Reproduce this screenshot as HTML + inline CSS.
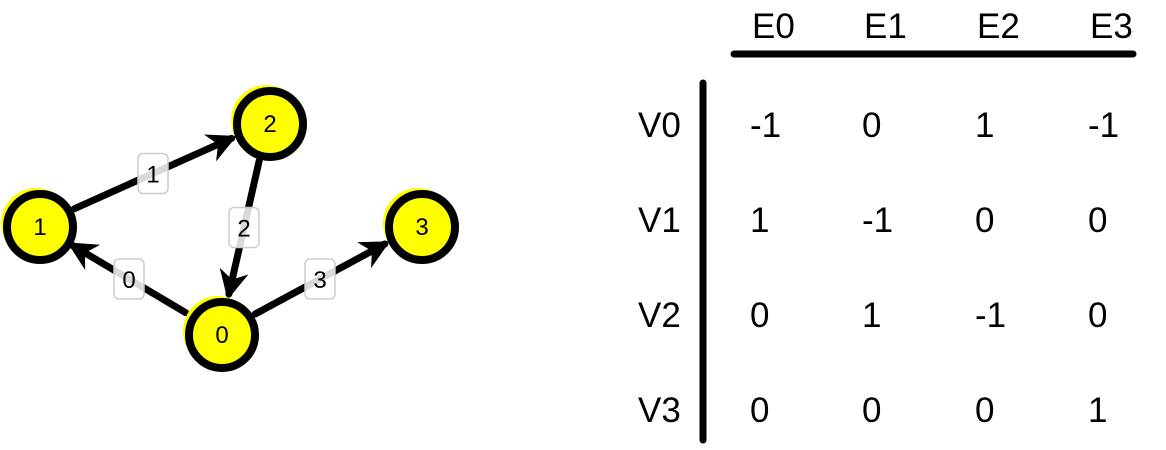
<!DOCTYPE html>
<html><head><meta charset="utf-8"><style>
html,body{margin:0;padding:0;background:#fff;width:1166px;height:450px;overflow:hidden}
text{font-family:"Liberation Sans",sans-serif;fill:#000}
</style></head><body>
<svg width="1166" height="450" viewBox="0 0 1166 450">
<defs>
<marker id="ah" viewBox="0 0 10 10" refX="8" refY="5" markerWidth="4.2" markerHeight="4.2" orient="auto" markerUnits="strokeWidth">
<path d="M0,0 L10,5 L0,10 L3,5 Z" fill="#000"/></marker>
</defs>
<g id="graph"></g>
<g id="table"></g>
</svg>
<script>
const nodeIds=["0","1","2","3"];
const nodeX=[220,38,268,420];
const nodeY=[333,225,122,225];
const edgeFrom=[0,1,2,0];
const edgeTo=[1,2,0,3];
const colLabels=["E0","E1","E2","E3"];
const rowLabels=["V0","V1","V2","V3"];
const matrix=[[-1,0,1,-1],[1,-1,0,0],[0,1,-1,0],[0,0,0,1]];
const NS="http://www.w3.org/2000/svg";
function mk(t,a,p){const e=document.createElementNS(NS,t);for(const k in a)e.setAttribute(k,a[k]);p.appendChild(e);return e;}
const g=document.getElementById('graph');
const R=36;
edgeFrom.forEach((f,i)=>{
  const t=edgeTo[i];
  const dx=nodeX[t]-nodeX[f],dy=nodeY[t]-nodeY[f],L=Math.hypot(dx,dy),ux=dx/L,uy=dy/L;
  const x1=nodeX[f]+ux*(R+4),y1=nodeY[f]+uy*(R+4),x2=nodeX[t]-ux*(R+4),y2=nodeY[t]-uy*(R+4);
  const ln=mk('line',{x1,y1,x2,y2,stroke:'#000','stroke-width':7,'stroke-linecap':'round','marker-end':'url(#ah)'},g);
  
  
  const mx=(x1+x2)/2,my=(y1+y2)/2;
  const lb=mk('g',{},g);
  
  
  mk('rect',{x:mx-15,y:my-20,width:30,height:40,rx:5,fill:'rgba(255,255,255,0.85)',stroke:'#ccc','stroke-width':1.5},lb);
  const tx=mk('text',{x:mx,y:my+9,'text-anchor':'middle','font-size':24},lb);tx.textContent=String(i);
});
nodeIds.forEach((id,i)=>{
  const n=mk('g',{},g);
  
  
  mk('ellipse',{cx:nodeX[i]-2,cy:nodeY[i]-2,rx:35,ry:35,fill:'#ffff00'},n);
  mk('ellipse',{cx:nodeX[i]+2,cy:nodeY[i]+2,rx:33,ry:33,fill:'#ffff00',stroke:'#000','stroke-width':8},n);
  const t=mk('text',{x:nodeX[i]+2,y:nodeY[i]+10,'text-anchor':'middle','font-size':24},n);t.textContent=id;
});
const tb=document.getElementById('table');
const colX=[750,862,975,1088],rowY=[137,232,327,422];
colLabels.forEach((c,j)=>{const t=mk('text',{x:colX[j]+2,y:38,'font-size':35},tb);t.textContent=c;
 
 });
rowLabels.forEach((r,i)=>{const t=mk('text',{x:638,y:rowY[i],'font-size':35},tb);t.textContent=r;
 
 
 matrix[i].forEach((v,j)=>{const c=mk('text',{x:colX[j],y:rowY[i],'font-size':35},tb);c.textContent=String(v);
  
  });
});
const hl=mk('line',{x1:734,y1:54,x2:1133,y2:54,stroke:'#000','stroke-width':7,'stroke-linecap':'round'},tb);


const vl=mk('line',{x1:703,y1:83,x2:703,y2:440,stroke:'#000','stroke-width':7,'stroke-linecap':'round'},tb);


</script>
</body></html>
